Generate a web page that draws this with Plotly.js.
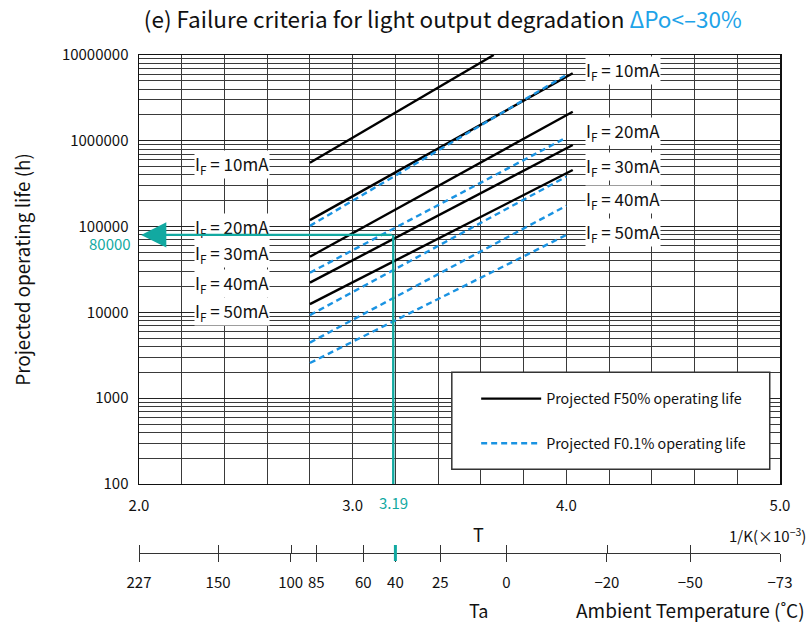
<!DOCTYPE html>
<html>
<head>
<meta charset="utf-8">
<script src="https://cdn.plot.ly/plotly-3.0.1.min.js"></script>
<style>html,body{margin:0;padding:0;background:#fff;}#chart{width:811px;height:622px;}</style>
</head>
<body>
<div id="chart"></div>
<script>
// ---- data ----
const currents = ['10mA', '20mA', '30mA', '40mA', '50mA'];
// Projected F50% operating life (solid): from 1/T = 2.8 to end x
const f50StartX = [2.8, 2.8, 2.8, 2.8, 2.8];
const f50EndX = [3.66, 4.03, 4.03, 4.03, 4.03];
const f50Start = [556000, 119000, 44600, 22200, 12500];
const f50End = [10000000, 6120000, 2180000, 893000, 457000];
// Projected F0.1% operating life (dashed)
const f01StartX = [2.8, 2.8, 2.8, 2.8, 2.8];
const f01EndX = [4.0, 4.0, 4.0, 4.0, 4.0];
const f01Start = [102000, 29000, 9300, 4440, 2570];
const f01End = [5850000, 1090000, 382000, 175000, 79800];
// example reading
const exampleInvT = 3.19;
const exampleLife = 80000;
const exampleFloor = 100;
// axes
const yTickVals = [100, 1000, 10000, 100000, 1000000, 10000000];
const yTickText = ['100', '1000', '10000', '100000', '1000000', '10000000'];
const xTickVals = [2, 3, 4, 5];
const xTickText = ['2.0', '3.0', '4.0', '5.0'];
const taLabels = ['227', '150', '100', '85', '60', '40', '25', '0', '\u221220', '\u221250', '\u221273'];
const taPos = [2.0, 2.37, 2.71, 2.83, 3.05, 3.2, 3.41, 3.72, 4.19, 4.58, 5.0];
const leftLabelY = [5.718, 4.984, 4.681, 4.331, 4.005];   // log10 of label heights
const rightLabelY = [6.825, 6.103, 5.706, 5.310, 4.937];

const FONT = "'Noto Sans CJK JP', 'Noto Sans', sans-serif";
const TEAL = '#12a9a1';
const BLUE = '#1a93e2';
const GRID = '#3a3a3a';

const traces = [];
currents.forEach((c, i) => {
  traces.push({
    x: [f50StartX[i], f50EndX[i]], y: [f50Start[i], f50End[i]],
    mode: 'lines', line: {color: '#000', width: 2.4},
    name: 'Projected F50% operating life', legendgroup: 'f50',
    showlegend: i === 0, hoverinfo: 'skip'
  });
});
currents.forEach((c, i) => {
  traces.push({
    x: [f01StartX[i], f01EndX[i]], y: [f01Start[i], f01End[i]],
    mode: 'lines', line: {color: BLUE, width: 2.4, dash: '6px,4px'},
    name: 'Projected F0.1% operating life', legendgroup: 'f01',
    showlegend: i === 0, hoverinfo: 'skip'
  });
});
traces.push({
  x: [exampleInvT, exampleInvT], y: [exampleFloor, exampleLife],
  mode: 'lines', line: {color: TEAL, width: 2.4}, showlegend: false, hoverinfo: 'skip'
});
traces.push({x: [2, 5], y: [null, null], xaxis: 'x2', yaxis: 'y', mode: 'lines', showlegend: false, hoverinfo: 'skip'});

const annotations = [];
currents.forEach((c, i) => {
  annotations.push({x: 2.434, y: leftLabelY[i], xref: 'x', yref: 'y', text: 'I<sub>F</sub> = ' + c,
    showarrow: false, bgcolor: '#fff', borderpad: 0, font: {family: FONT, size: 17, color: '#111'}});
  annotations.push({x: 4.265, y: rightLabelY[i], xref: 'x', yref: 'y', text: 'I<sub>F</sub> = ' + c,
    showarrow: false, bgcolor: '#fff', borderpad: 0, font: {family: FONT, size: 17, color: '#111'}});
});
// arrow to the y axis
annotations.push({x: 2.01, y: Math.log10(exampleLife), xref: 'x', yref: 'y',
  ax: exampleInvT, ay: Math.log10(exampleLife), axref: 'x', ayref: 'y',
  showarrow: true, arrowhead: 2, arrowsize: 2.1, arrowwidth: 2.4, arrowcolor: TEAL, text: ''});
annotations.push({x: 0, xref: 'paper', xshift: -6, xanchor: 'right', y: Math.log10(exampleLife), yref: 'y', yshift: -9,
  text: String(exampleLife), showarrow: false, font: {family: FONT, size: 15, color: TEAL}});
annotations.push({x: exampleInvT, xref: 'x', xanchor: 'center', y: 0.186, yref: 'paper', yshift: -19, yanchor: 'middle',
  text: String(exampleInvT), showarrow: false, font: {family: FONT, size: 15, color: TEAL}});
annotations.push({x: 0.529, xref: 'paper', xanchor: 'center', y: 0.091, yref: 'paper', yanchor: 'middle', text: 'T', showarrow: false,
  font: {family: FONT, size: 18, color: '#111'}});
annotations.push({x: 1.043, xref: 'paper', xanchor: 'right', y: 0.089, yref: 'paper', yanchor: 'middle', text: '1/K(\u00d710<sup>\u22123</sup>)', showarrow: false,
  font: {family: FONT, size: 15, color: '#111'}});
annotations.push({x: 0.529, xref: 'paper', xanchor: 'center', y: -0.053, yref: 'paper', yanchor: 'middle', text: 'Ta', showarrow: false,
  font: {family: FONT, size: 18, color: '#111'}});
annotations.push({x: 1.042, xref: 'paper', xanchor: 'right', y: -0.053, yref: 'paper', yanchor: 'middle', text: 'Ambient Temperature (\u02daC)', showarrow: false,
  font: {family: FONT, size: 19, color: '#111'}});

const layout = {
  width: 811, height: 622,
  margin: {l: 139, r: 31, t: 55, b: 40},
  paper_bgcolor: '#fff', plot_bgcolor: '#fff',
  font: {family: FONT, color: '#111'},
  title: {text: "(e) Failure criteria for light output degradation <span style='color:#1ea3e8'>\u0394Po&lt;\u201330%</span>",
    x: 0.546, xanchor: 'center', xref: 'container', y: 0.968, yanchor: 'middle', font: {family: FONT, size: 22.5, color: '#111'}},
  showlegend: true,
  legend: {x: 0.526, xanchor: 'left', y: 0.378, yanchor: 'top', bgcolor: 'rgba(0,0,0,0)', borderwidth: 0,
    itemwidth: 60, tracegroupgap: 23, traceorder: 'grouped', font: {family: FONT, size: 14.3, color: '#111'}},
  xaxis: {range: [2, 5], anchor: 'y', tickvals: xTickVals, ticktext: xTickText, ticks: '',
    showgrid: true, gridcolor: GRID, gridwidth: 1,
    minor: {dtick: 0.2, tick0: 2, showgrid: true, gridcolor: GRID, gridwidth: 1},
    showline: true, linecolor: '#111', linewidth: 1.5, mirror: true, zeroline: false,
    tickfont: {family: FONT, size: 15, color: '#111'}, ticklabelstandoff: 8},
  xaxis2: {range: [2, 5], overlaying: 'x', anchor: 'free', position: 0.055, side: 'bottom',
    tickvals: taPos, ticktext: taLabels, ticks: 'outside', ticklen: 8, tickcolor: '#333', tickwidth: 1,
    minor: {tickmode: 'array', tickvals: taPos.map(v => v + 0.002), ticks: 'inside', ticklen: 8, tickcolor: '#333', tickwidth: 1, showgrid: false},
    showline: true, linecolor: '#333', linewidth: 1, showgrid: false, zeroline: false,
    tickfont: {family: FONT, size: 15, color: '#111'}, ticklabelstandoff: 8},
  yaxis: {type: 'log', range: [2, 7], domain: [0.186, 1], tickvals: yTickVals, ticktext: yTickText, ticks: '',
    showgrid: true, gridcolor: '#222', gridwidth: 1,
    minor: {dtick: 'D1', showgrid: true, gridcolor: GRID, gridwidth: 1},
    showline: true, linecolor: '#111', linewidth: 1.5, mirror: true, zeroline: false,
    tickfont: {family: FONT, size: 15, color: '#111'}, ticklabelstandoff: 6,
    title: {text: 'Projected operating life (h)', font: {family: FONT, size: 18.8, color: '#111'}, standoff: 26}},
  shapes: [
    {type: 'rect', xref: 'paper', yref: 'paper', x0: 0.488, x1: 0.984, y0: 0.214, y1: 0.398,
      fillcolor: '#fff', line: {color: '#333', width: 1.5}, layer: 'above'},
    {type: 'line', xref: 'x2', yref: 'paper', x0: taPos[5], x1: taPos[5], ysizemode: 'pixel', yanchor: 0.055, y0: -8, y1: 8,
      line: {color: TEAL, width: 3}}
  ],
  annotations: annotations
};

Plotly.newPlot('chart', traces, layout, {displayModeBar: false, staticPlot: true});
</script>
</body>
</html>
